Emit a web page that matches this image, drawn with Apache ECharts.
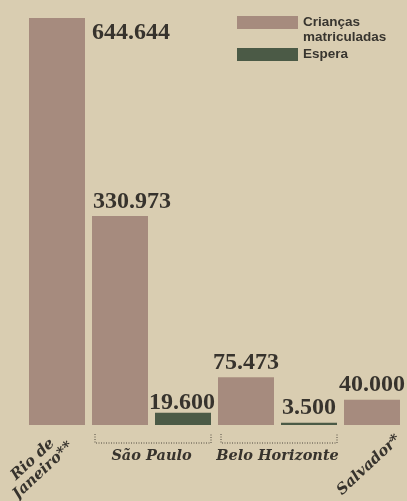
<!DOCTYPE html>
<html><head><meta charset="utf-8">
<script src="https://cdn.jsdelivr.net/npm/echarts@6/dist/echarts.min.js"></script>
<style>html,body{margin:0;padding:0;background:#d9cdb1}#c{width:407px;height:501px}</style>
</head><body><div id="c"></div>
<script>
const categories = ['Rio de Janeiro', 'São Paulo', 'São Paulo (espera)', 'Belo Horizonte', 'Belo Horizonte (espera)', 'Salvador'];
const enrolled = [644644, 330973, null, 75473, null, 40000];
const waiting = [null, null, 19600, null, 3500, null];
const seriesNames = ['Crianças matriculadas', 'Espera'];
const groupLabels = [
  { text: 'Rio de\nJaneiro**', from: 0, to: 0 },
  { text: 'São Paulo', from: 1, to: 2 },
  { text: 'Belo Horizonte', from: 3, to: 4 },
  { text: 'Salvador*', from: 5, to: 5 }
];
const tiltOffsets = { 0: -19, 5: -3 };

const BAR_W = 56;
const TEXT = '#37332d';
const fmt = v => String(v).replace(/\B(?=(\d{3})+(?!\d))/g, '.');

const numLabel = {
  show: true, position: 'top', distance: 3,
  formatter: p => fmt(p.value),
  fontFamily: 'Liberation Serif', fontWeight: 'bold', fontSize: 24, color: TEXT
};

const enrolledData = enrolled.map((v, i) => {
  if (i === 0) return { value: v, label: { position: ['100%', 0], offset: [7, 15], align: 'left', verticalAlign: 'middle' } };
  if (i === 1) return { value: v, label: { offset: [12, 1] } };
  return v;
});
const waitingData = waiting.map((v, i) => (i === 2 ? { value: v, label: { offset: [-1, 5] } } : v));

const chart = echarts.init(document.getElementById('c'));
chart.setOption({
  backgroundColor: '#d9cdb1',
  animation: false,
  grid: { left: 25.5, right: 3.5, top: 18, bottom: 76 },
  xAxis: { type: 'category', data: categories, show: false },
  yAxis: { type: 'value', min: 0, max: Math.max(...enrolled), show: false, splitLine: { show: false } },
  legend: {
    orient: 'vertical', left: 237, top: 0, padding: 0,
    itemWidth: 61, itemHeight: 13, itemGap: 2, icon: 'rect',
    selectedMode: false,
    formatter: n => (n.includes(' ') ? '\n' + n.replace(' ', '\n') : n),
    textStyle: { fontFamily: 'Liberation Sans', fontWeight: 'bold', fontSize: 13.5, color: '#38352f', lineHeight: 15 },
    data: [{ name: seriesNames[0] }, { name: seriesNames[1] }]
  },
  series: [
    { type: 'bar', name: seriesNames[0], data: enrolledData, barWidth: BAR_W, barGap: '-100%',
      itemStyle: { color: '#a68b7e' }, label: numLabel },
    { type: 'bar', name: seriesNames[1], data: waitingData, barWidth: BAR_W, barGap: '-100%',
      itemStyle: { color: '#4b5a46' }, label: numLabel }
  ]
});

const px = (i, v) => chart.convertToPixel({ gridIndex: 0 }, [i, v]);
const base = px(0, 0)[1];
const elements = [];
groupLabels.forEach(g => {
  const c1 = px(g.from, 0)[0], c2 = px(g.to, 0)[0];
  if (g.from !== g.to) {
    const x1 = c1 - BAR_W / 2 + 3, x2 = c2 + BAR_W / 2;
    elements.push({
      type: 'polyline', silent: true,
      shape: { points: [[x1, base + 9], [x1, base + 18], [x2, base + 18], [x2, base + 9]] },
      style: { stroke: '#4f483f', lineWidth: 1, lineDash: [1, 1.5], fill: null }
    });
    elements.push({
      type: 'text', x: (c1 + c2) / 2, y: base + 31, silent: true,
      style: { text: g.text, align: 'center', verticalAlign: 'middle', textAlign: 'center', textVerticalAlign: 'middle',
        fontFamily: 'DejaVu Serif', fontWeight: 'bold', fontStyle: 'italic', fontSize: 14.5, fill: TEXT }
    });
  } else {
    elements.push({
      type: 'text', x: c1 + (tiltOffsets[g.from] || 0), y: base + 40, rotation: 43 * Math.PI / 180, silent: true,
      style: { text: g.text, align: 'center', verticalAlign: 'middle', textAlign: 'center', textVerticalAlign: 'middle',
        fontFamily: 'DejaVu Serif', fontWeight: 'bold', fontStyle: 'italic', fontSize: 15, lineHeight: 15, fill: TEXT }
    });
  }
});
chart.setOption({ graphic: { elements } });
</script>
</body></html>
